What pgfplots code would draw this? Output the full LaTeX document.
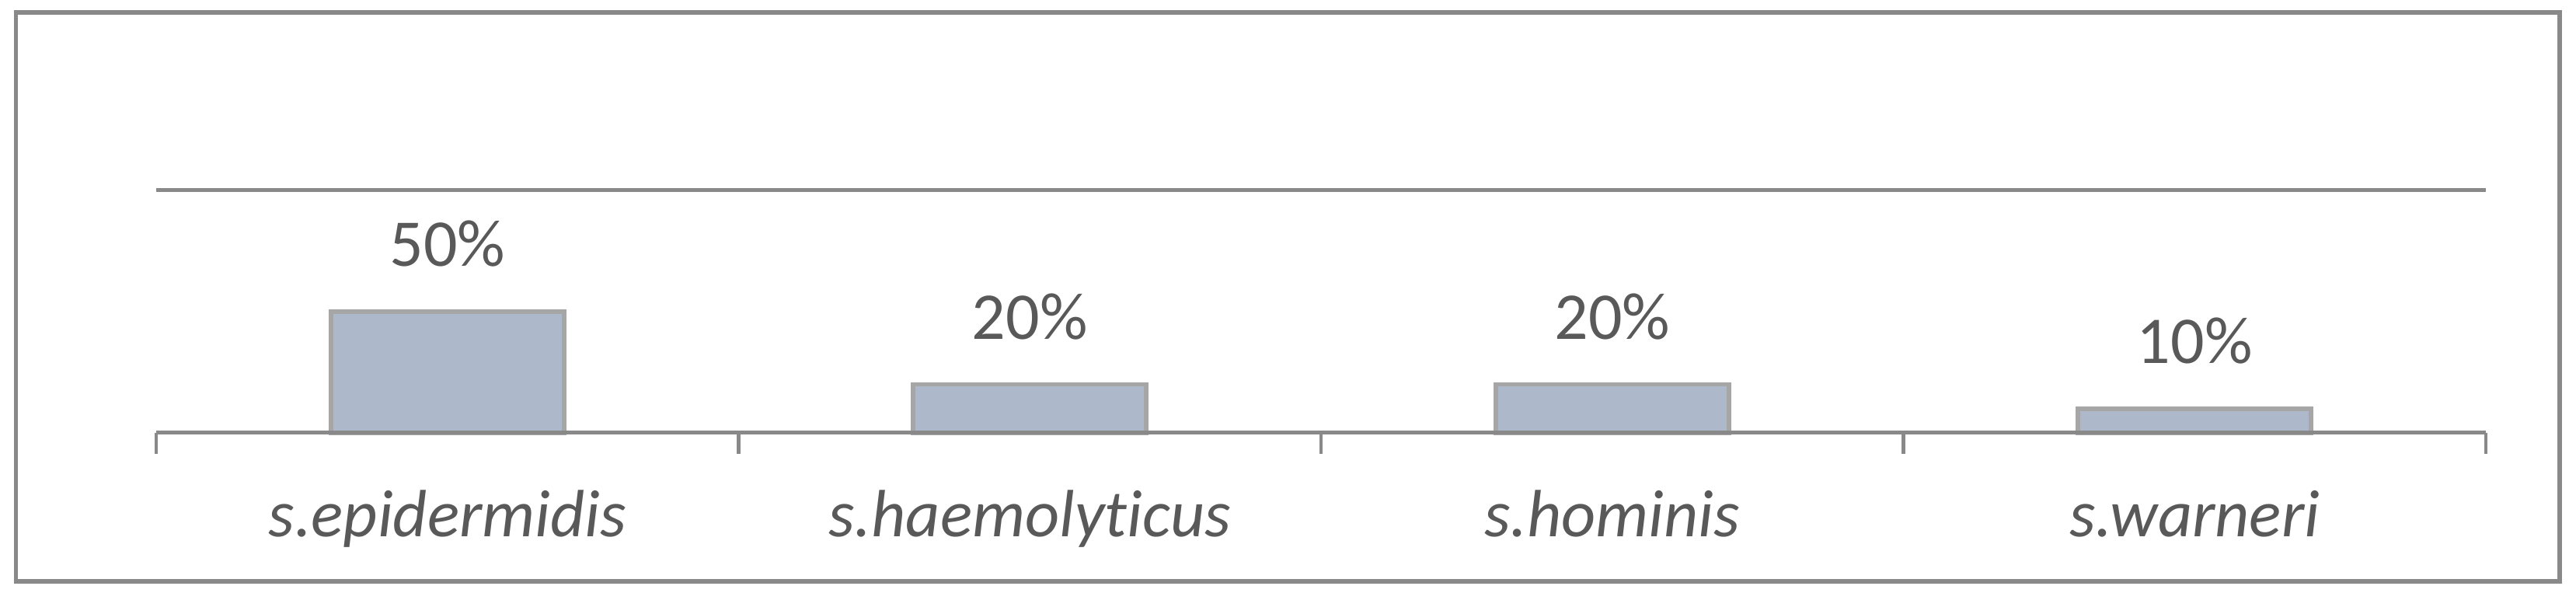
\documentclass[border=0pt]{standalone}
\usepackage{pgfplots}
\pgfplotsset{compat=1.18}
\usepackage{fontspec}
\setmainfont[Ligatures=NoCommon]{Carlito}
\definecolor{axgray}{HTML}{898989}
\definecolor{bargray}{HTML}{A6A6A6}
\definecolor{barfill}{HTML}{ADB9CA}
\definecolor{txt}{HTML}{595959}
\begin{document}
\fontsize{17.2pt}{20pt}\selectfont
\begin{tikzpicture}
\path[use as bounding box] (0,0) rectangle (663pt,154.4pt);
\draw[axgray, line width=1.06pt] (4.14pt,4.8pt) rectangle (658.8pt,151.2pt);
\begin{axis}[
  at={(40.2pt,43pt)}, anchor=south west,
  width=599.6pt, height=62.4pt, scale only axis,
  xmin=-0.5, xmax=3.5, ymin=0, ymax=100,
  clip=false,
  axis on top,
  axis line style={draw=none},
  ybar, bar width=60pt,
  xtick={0,1,2,3},
  xticklabels={s.epidermidis, s.haemolyticus, s.hominis, s.warneri},
  minor xtick={-0.5,0.5,1.5,2.5,3.5},
  xtick pos=left,
  tick align=outside,
  major tick length=0pt,
  minor tick length=5.4pt,
  minor x tick style={axgray, line width=0.95pt},
  ytick={0,100},
  yticklabels={,,},
  ymajorgrids,
  major grid style={axgray, line width=1.0pt},
  xticklabel style={font=\itshape, text=txt, anchor=base, yshift=-26.8pt},
  /pgf/number format/assume math mode=true,
  nodes near coords={\pgfmathprintnumber{\pgfplotspointmeta}\%},
  every node near coord/.append style={text=txt, anchor=base, yshift=11.6pt},
]
\addplot[fill=barfill, draw=bargray, line width=1.15pt]
  coordinates {(0,50) (1,20) (2,20) (3,10)};
\end{axis}
\end{tikzpicture}
\end{document}
